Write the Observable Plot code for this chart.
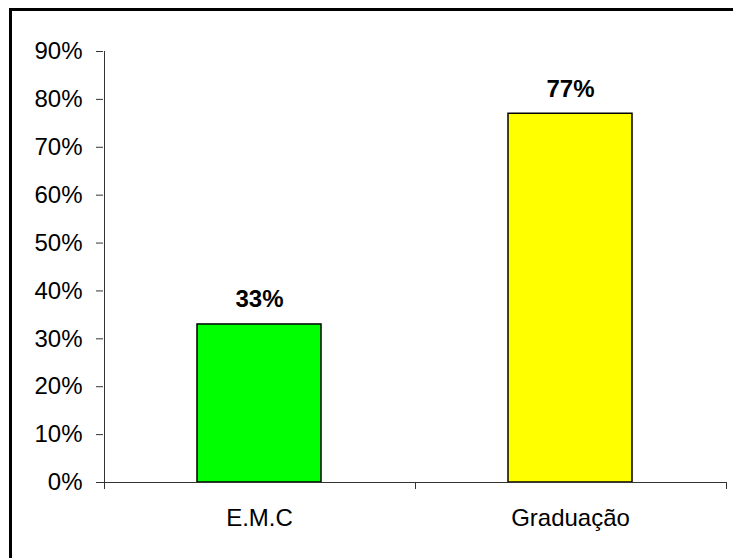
<!DOCTYPE html>
<html><head><meta charset="utf-8">
<script src="https://cdn.jsdelivr.net/npm/d3@7"></script>
<script src="https://cdn.jsdelivr.net/npm/@observablehq/plot@0.6"></script>
<style>
html,body{margin:0;padding:0;background:#fff;overflow:hidden;}
#wrap{position:relative;width:733px;height:558px;overflow:hidden;}
#frame{position:absolute;left:9px;top:8px;width:800px;height:700px;border:3px solid #000;box-sizing:border-box;}
#chart{position:absolute;left:0;top:0;}
</style></head><body><div id="wrap"><div id="frame"></div><div id="chart"></div></div>
<script>
const categories = ["E.M.C", "Graduação"];
const values = [0.33, 0.77];
const colors = ["#00ff00", "#ffff00"];
const yTicks = [0, 0.1, 0.2, 0.3, 0.4, 0.5, 0.6, 0.7, 0.8, 0.9];

const data = categories.map((c, i) => ({category: c, value: values[i], color: colors[i]}));
const pct = d => Math.round(d * 100) + "%";
const axisColor = "#333";

const plot = Plot.plot({
  width: 733, height: 558,
  marginLeft: 103, marginRight: 7, marginTop: 51, marginBottom: 76,
  style: {fontFamily: "'Liberation Sans', Arial, sans-serif", fontSize: "24px", background: "transparent", color: "#000"},
  x: {domain: categories, paddingInner: 0.6, paddingOuter: 0.3, label: null},
  y: {domain: [0, 0.9], label: null},
  color: {type: "identity"},
  marks: [
    Plot.axisY({ticks: yTicks, tickFormat: pct, tickSize: 7, tickPadding: 14, label: null, fontSize: 24, stroke: axisColor, fill: "#000"}),
    Plot.axisX({tickSize: 0, tickPadding: 26, label: null, fontSize: 24, fill: "#000"}),
    Plot.barY(data, {x: "category", y: "value", fill: "color", stroke: "#000", strokeWidth: 1.5}),
    Plot.ruleY([0], {stroke: axisColor}),
    Plot.text(data, {x: "category", y: "value", text: d => pct(d.value), lineAnchor: "bottom", dy: -17, fontWeight: "bold", fontSize: 24, fill: "#000"})
  ]
});

// x-axis tick marks at category boundaries and the y-axis line, from Plot's scales
const xs = plot.scale("x");
const ys = plot.scale("y");
const gap = (xs.step - xs.bandwidth) / 2;
const bounds = categories.map(c => xs.apply(c) - gap);
bounds.push(xs.apply(categories[categories.length - 1]) + xs.bandwidth + gap);
const y0 = ys.apply(0), yTop = ys.apply(0.9);
const svg = d3.select(plot);
const g = svg.append("g").attr("stroke", axisColor).attr("stroke-width", 1);
g.selectAll("line.t").data(bounds).join("line")
  .attr("x1", d => Math.round(d) + 0.5).attr("x2", d => Math.round(d) + 0.5)
  .attr("y1", y0).attr("y2", y0 + 7);
g.append("line")
  .attr("x1", Math.round(bounds[0]) + 0.5).attr("x2", Math.round(bounds[0]) + 0.5)
  .attr("y1", yTop).attr("y2", y0);

document.getElementById("chart").append(plot);
</script>
</body></html>
